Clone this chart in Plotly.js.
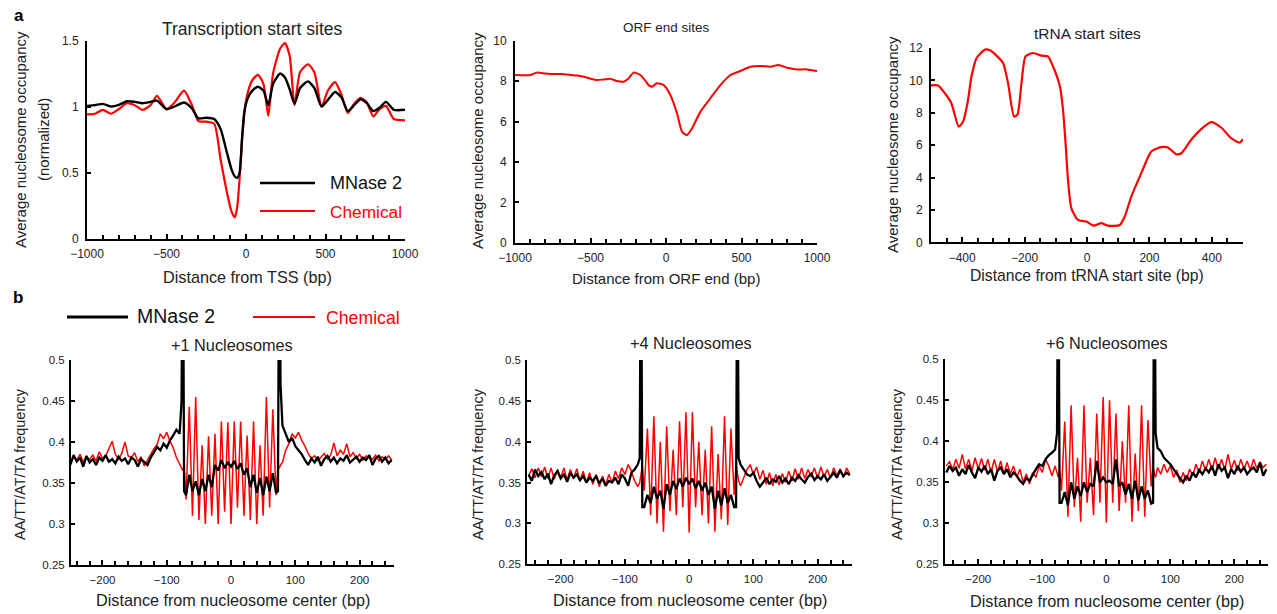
<!DOCTYPE html>
<html><head><meta charset="utf-8">
<script src="https://cdn.plot.ly/plotly-3.0.1.min.js"></script>
<style>html,body{margin:0;padding:0;background:#fff;}#chart{width:1277px;height:614px;}</style>
</head><body><div id="chart"></div>
<script>
// ---------- Panel a: Transcription start sites ----------
const tssX = [-1000,-950,-900,-850,-800,-750,-700,-650,-600,-560,-500,-450,-390,-340,-300,-250,-200,-160,-120,-90,-70,-55,-40,-25,-10,10,40,75,110,140,170,215,245,275,305,340,390,430,475,515,560,600,640,680,720,760,800,840,880,930,1000];
const tssMNase = [1.005,1.01,1.02,1.0,1.012,1.04,1.035,1.025,1.035,1.045,0.98,1.0,1.03,0.985,0.91,0.915,0.905,0.83,0.65,0.52,0.47,0.46,0.5,0.76,0.96,1.06,1.12,1.15,1.12,1.01,1.17,1.25,1.22,1.13,1.02,1.14,1.19,1.14,1.0,1.05,1.11,1.07,0.965,1.01,1.055,1.025,0.965,0.99,1.035,0.975,0.975];
const tssChem = [0.94,0.945,0.975,0.945,0.98,1.025,1.01,0.975,1.01,1.08,0.98,1.03,1.12,1.01,0.89,0.885,0.87,0.6,0.35,0.2,0.16,0.24,0.46,0.74,0.96,1.1,1.2,1.24,1.17,0.93,1.25,1.44,1.48,1.38,1.01,1.26,1.32,1.26,1.0,1.12,1.185,1.09,0.95,1.02,1.065,1.03,0.925,0.98,1.005,0.905,0.895];

// ---------- ORF end sites ----------
const orfX = [-1000,-900,-855,-800,-745,-690,-634,-590,-546,-500,-457,-413,-369,-325,-281,-248,-214,-170,-140,-115,-93,-60,-15,29,73,106,139,172,228,294,360,427,493,559,625,692,747,802,869,935,1000];
const orfChem = [8.3,8.3,8.42,8.38,8.35,8.35,8.3,8.28,8.22,8.12,8.05,8.08,8.12,8.0,7.97,8.13,8.42,8.3,8.05,7.8,7.72,7.89,7.8,7.31,6.4,5.5,5.33,5.66,6.49,7.15,7.8,8.3,8.5,8.71,8.75,8.71,8.8,8.66,8.58,8.58,8.5];

// ---------- tRNA start sites ----------
const trnaX = [-500,-477,-456,-435,-411,-397,-383,-370,-354,-327,-311,-290,-269,-253,-234,-223,-210,-197,-173,-146,-125,-109,-87,-77,-68,-61,-50,-29,-2,21,46,67,105,121,142,174,206,238,259,286,302,334,366,398,430,462,489,500];
const trnaChem = [9.69,9.69,9.22,8.6,7.15,7.46,8.6,10.25,11.38,11.9,11.86,11.53,11.07,9.83,7.77,7.88,9.83,11.48,11.69,11.53,11.48,10.87,9.63,8.19,5.92,3.86,2.1,1.38,1.28,1.03,1.18,1.03,1.07,1.59,2.82,4.27,5.61,5.88,5.86,5.44,5.5,6.33,6.99,7.42,7.09,6.43,6.16,6.37];

// ---------- Panel b: positions relative to nucleosome center ----------
const posB = [-250,-245,-240,-235,-230,-225,-220,-215,-210,-205,-200,-195,-190,-185,-180,-175,-170,-165,-160,-155,-150,-145,-140,-135,-130,-125,-120,-115,-110,-105,-100,-95,-90,-85,-80,
 -77,-75,-73,
 -70,-65,-60,-55,-50,-45,-40,-35,-30,-25,-20,-15,-10,-5,0,5,10,15,20,25,30,35,40,45,50,55,60,65,70,
 73,75,77,
 80,85,90,95,100,105,110,115,120,125,130,135,140,145,150,155,160,165,170,175,180,185,190,195,200,205,210,215,220,225,230,235,240,245,250];

// +1 nucleosomes
const nuc1Chem = [0.375,0.382,0.378,0.385,0.376,0.381,0.379,0.384,0.377,0.388,0.38,0.383,0.392,0.401,0.385,0.379,0.386,0.4,0.383,0.381,0.387,0.376,0.382,0.371,0.378,0.386,0.392,0.397,0.41,0.404,0.412,0.401,0.393,0.381,0.372,
 0.368,0.365,0.37,
 0.33,0.443,0.31,0.455,0.305,0.396,0.30,0.407,0.31,0.41,0.30,0.425,0.315,0.424,0.30,0.425,0.32,0.425,0.31,0.408,0.305,0.425,0.30,0.396,0.31,0.455,0.32,0.44,0.335,
 0.37,0.368,0.372,
 0.375,0.39,0.398,0.41,0.405,0.412,0.402,0.395,0.386,0.38,0.383,0.377,0.381,0.386,0.379,0.384,0.399,0.383,0.39,0.385,0.398,0.382,0.387,0.38,0.385,0.378,0.383,0.381,0.379,0.384,0.377,0.382,0.379,0.383,0.378];
const nuc1MNase = [0.372,0.384,0.376,0.381,0.37,0.383,0.375,0.379,0.372,0.381,0.377,0.384,0.376,0.379,0.374,0.382,0.377,0.38,0.373,0.381,0.378,0.37,0.379,0.376,0.372,0.381,0.388,0.394,0.39,0.398,0.393,0.402,0.408,0.415,0.41,
 0.45,0.7,0.34,
 0.335,0.36,0.34,0.352,0.335,0.355,0.34,0.36,0.345,0.372,0.365,0.378,0.368,0.375,0.37,0.377,0.367,0.374,0.36,0.368,0.345,0.36,0.338,0.356,0.335,0.358,0.34,0.362,0.338,
 0.34,0.7,0.47,
 0.42,0.41,0.4,0.405,0.395,0.39,0.385,0.378,0.372,0.38,0.375,0.382,0.371,0.379,0.383,0.376,0.381,0.374,0.38,0.377,0.384,0.375,0.379,0.382,0.376,0.381,0.378,0.384,0.372,0.38,0.383,0.376,0.381,0.374,0.378];

// +4 nucleosomes
const nuc4Chem = [0.358,0.367,0.356,0.368,0.357,0.369,0.355,0.368,0.354,0.366,0.356,0.368,0.353,0.366,0.355,0.367,0.352,0.364,0.35,0.362,0.348,0.36,0.345,0.358,0.347,0.36,0.35,0.364,0.355,0.368,0.36,0.372,0.364,0.352,0.345,
 0.35,0.36,0.37,
 0.34,0.416,0.31,0.431,0.30,0.40,0.29,0.419,0.315,0.39,0.31,0.425,0.32,0.436,0.289,0.436,0.32,0.40,0.31,0.39,0.30,0.419,0.29,0.385,0.305,0.431,0.298,0.416,0.335,
 0.372,0.362,0.352,
 0.346,0.355,0.366,0.372,0.36,0.369,0.354,0.365,0.348,0.362,0.346,0.36,0.347,0.361,0.35,0.364,0.352,0.367,0.354,0.368,0.355,0.366,0.357,0.368,0.355,0.369,0.357,0.366,0.356,0.368,0.358,0.367,0.356,0.368,0.36];
const nuc4MNase = [0.36,0.352,0.366,0.358,0.363,0.354,0.361,0.348,0.359,0.364,0.355,0.36,0.351,0.362,0.356,0.36,0.353,0.358,0.35,0.356,0.352,0.358,0.349,0.355,0.346,0.352,0.35,0.356,0.348,0.36,0.355,0.346,0.362,0.366,0.372,
 0.38,0.7,0.32,
 0.32,0.335,0.325,0.345,0.33,0.34,0.318,0.348,0.335,0.352,0.342,0.355,0.345,0.356,0.348,0.355,0.343,0.352,0.34,0.35,0.335,0.345,0.318,0.34,0.322,0.343,0.325,0.335,0.32,
 0.32,0.7,0.38,
 0.372,0.366,0.36,0.358,0.362,0.352,0.345,0.35,0.356,0.348,0.354,0.351,0.358,0.35,0.355,0.348,0.356,0.352,0.359,0.354,0.35,0.357,0.361,0.353,0.358,0.354,0.36,0.352,0.357,0.362,0.356,0.365,0.358,0.362,0.359];

// +6 nucleosomes
const nuc6Chem = [0.37,0.375,0.366,0.378,0.367,0.384,0.366,0.378,0.364,0.38,0.366,0.379,0.365,0.378,0.362,0.378,0.363,0.376,0.36,0.374,0.36,0.37,0.356,0.366,0.35,0.36,0.348,0.362,0.356,0.37,0.362,0.378,0.37,0.358,0.37,
 0.362,0.356,0.365,
 0.34,0.424,0.308,0.444,0.32,0.38,0.302,0.444,0.325,0.38,0.31,0.434,0.325,0.454,0.301,0.45,0.325,0.434,0.315,0.40,0.325,0.444,0.302,0.385,0.315,0.444,0.308,0.426,0.345,
 0.37,0.36,0.356,
 0.368,0.36,0.372,0.362,0.37,0.356,0.365,0.35,0.362,0.352,0.366,0.358,0.372,0.362,0.376,0.364,0.378,0.365,0.38,0.366,0.378,0.365,0.384,0.366,0.377,0.364,0.378,0.366,0.376,0.365,0.378,0.367,0.375,0.368,0.372];
const nuc6MNase = [0.362,0.37,0.364,0.368,0.358,0.366,0.36,0.371,0.362,0.355,0.368,0.363,0.37,0.36,0.366,0.352,0.364,0.368,0.36,0.366,0.356,0.362,0.358,0.352,0.348,0.355,0.352,0.36,0.366,0.372,0.37,0.378,0.383,0.386,0.39,
 0.41,0.7,0.325,
 0.325,0.338,0.322,0.35,0.33,0.345,0.333,0.35,0.338,0.348,0.345,0.376,0.35,0.356,0.35,0.352,0.348,0.378,0.345,0.35,0.335,0.348,0.33,0.352,0.328,0.345,0.33,0.34,0.324,
 0.325,0.7,0.41,
 0.392,0.388,0.38,0.376,0.372,0.366,0.36,0.355,0.35,0.358,0.352,0.362,0.356,0.365,0.36,0.367,0.362,0.37,0.358,0.372,0.364,0.368,0.355,0.366,0.36,0.37,0.363,0.368,0.36,0.365,0.368,0.362,0.374,0.358,0.366];

// ---------- rendering ----------
const FONT = "Arial, 'Liberation Sans', Helvetica, sans-serif";
const RED = '#ff0000', BLK = '#000000';
const W = 1277, H = 614;
const px = v => v / W;
const py = v => 1 - v / H;

function xAxis(l, r, range, dtick, minor, fs, anchor) {
  return {
    domain: [px(l), px(r)], range: range, anchor: anchor,
    showline: true, linecolor: '#000', linewidth: 2,
    ticks: 'inside', ticklen: 5, tickwidth: 2, tickcolor: '#000',
    tick0: 0, dtick: dtick, showgrid: false, zeroline: false,
    tickfont: {family: FONT, size: fs, color: '#222'},
    ticklabelstandoff: 3,
    minor: {tick0: 0, dtick: minor, ticks: 'inside', ticklen: 4, tickwidth: 2, tickcolor: '#000', showgrid: false},
    fixedrange: true
  };
}
function yAxis(t, b, range, dtick, fs, anchor, standoff) {
  return {
    domain: [py(b), py(t)], range: range, anchor: anchor,
    showline: true, linecolor: '#000', linewidth: 2,
    ticks: 'inside', ticklen: 4, tickwidth: 2, tickcolor: '#000',
    tick0: 0, dtick: dtick, showgrid: false, zeroline: false,
    tickfont: {family: FONT, size: fs, color: '#222'},
    ticklabelstandoff: standoff,
    fixedrange: true
  };
}
function line(x, y, color, width, xa, ya, name, shape) {
  return {x: x, y: y, type: 'scatter', mode: 'lines', name: name, showlegend: false,
    line: {color: color, width: width, shape: shape || 'linear', smoothing: 0.6},
    xaxis: xa, yaxis: ya, hoverinfo: 'skip'};
}

const data = [
  line(tssX, tssChem, RED, 2.2, 'x', 'y', 'Chemical', 'spline'),
  line(tssX, tssMNase, BLK, 2.4, 'x', 'y', 'MNase 2', 'spline'),
  line(orfX, orfChem, RED, 2, 'x2', 'y2', 'Chemical', 'spline'),
  line(trnaX, trnaChem, RED, 2.2, 'x3', 'y3', 'Chemical', 'spline'),
  line(posB, nuc1Chem, RED, 1.5, 'x4', 'y4', 'Chemical'),
  line(posB, nuc1MNase, BLK, 2.3, 'x4', 'y4', 'MNase 2'),
  line(posB, nuc4Chem, RED, 1.5, 'x5', 'y5', 'Chemical'),
  line(posB, nuc4MNase, BLK, 2.3, 'x5', 'y5', 'MNase 2'),
  line(posB, nuc6Chem, RED, 1.5, 'x6', 'y6', 'Chemical'),
  line(posB, nuc6MNase, BLK, 2.3, 'x6', 'y6', 'MNase 2')
];

function ann(text, x, y, size, opts) {
  return Object.assign({text: text, x: px(x), y: py(y), xref: 'paper', yref: 'paper',
    showarrow: false, xanchor: 'center', yanchor: 'middle',
    font: {family: FONT, size: size, color: '#222'}}, opts || {});
}
const YT = 'Average nucleosome occupancy';
const BT = 'AA/TT/AT/TA frequency';
const BX = 'Distance from nucleosome center (bp)';

const annotations = [
  ann('<b>a</b>', 19, 15, 17, {font: {family: FONT, size: 17, color: '#000'}}),
  ann('<b>b</b>', 18, 297, 17, {font: {family: FONT, size: 17, color: '#000'}}),
  ann('Transcription start sites', 252, 29, 17.5),
  ann('ORF end sites', 666, 27, 13.5),
  ann('tRNA start sites', 1087, 33, 15.5),
  ann(YT, 20, 140, 15, {textangle: -90}),
  ann('(normalized)', 43, 140, 15, {textangle: -90}),
  ann(YT, 477, 141, 15, {textangle: -90}),
  ann(YT, 892, 145, 15, {textangle: -90}),
  ann('Distance from TSS (bp)', 247, 277, 16.2),
  ann('Distance from ORF end (bp)', 666, 278, 15),
  ann('Distance from tRNA start site (bp)', 1087, 275, 15.7),
  ann('+1 Nucleosomes', 232, 345, 16.3),
  ann('+4 Nucleosomes', 691, 343, 16.3),
  ann('+6 Nucleosomes', 1107, 343, 16.3),
  ann(BT, 20, 464, 14.5, {textangle: -90}),
  ann(BT, 478, 464, 14.5, {textangle: -90}),
  ann(BT, 897, 464, 14.5, {textangle: -90}),
  ann(BX, 233, 600, 16.2),
  ann(BX, 690, 600, 16.2),
  ann(BX, 1107, 601, 16.2),
  ann('MNase 2', 328, 183, 18, {xanchor: 'left', font: {family: FONT, size: 18, color: '#111'}}),
  ann('Chemical', 328, 212, 17.3, {xanchor: 'left', font: {family: FONT, size: 17.3, color: RED}}),
  ann('MNase 2', 135, 316, 19.5, {xanchor: 'left', font: {family: FONT, size: 19.5, color: '#111'}}),
  ann('Chemical', 324, 318, 17.7, {xanchor: 'left', font: {family: FONT, size: 17.7, color: RED}})
];

function key(x0, x1, y, color, w) {
  return {type: 'line', xref: 'paper', yref: 'paper', x0: px(x0), x1: px(x1), y0: py(y), y1: py(y),
    line: {color: color, width: w}};
}
const shapes = [
  key(260, 315, 183, BLK, 2.5),
  key(260, 315, 211, RED, 2),
  key(67, 128, 317, BLK, 3),
  key(253, 315, 317, RED, 2)
];

const layout = {
  width: W, height: H,
  margin: {l: 0, r: 0, t: 0, b: 0},
  paper_bgcolor: '#fff', plot_bgcolor: 'rgba(0,0,0,0)',
  showlegend: false,
  font: {family: FONT, color: '#222'},
  xaxis:  xAxis(87, 405, [-1000, 1000], 500, 100, 12, 'y'),
  yaxis:  yAxis(40.5, 238.5, [0, 1.5], 0.5, 12, 'x', 4),
  xaxis2: xAxis(515, 817, [-1000, 1000], 500, 100, 12, 'y2'),
  yaxis2: yAxis(40.7, 242.7, [0, 10], 2, 12, 'x2', 4),
  xaxis3: xAxis(931, 1243, [-500, 500], 200, 50, 12, 'y3'),
  yaxis3: yAxis(48, 242.3, [0, 12], 2, 12, 'x3', 4),
  xaxis4: xAxis(71, 394.3, [-249, 254], 100, 20, 11.5, 'y4'),
  yaxis4: yAxis(360, 565, [0.25, 0.5], 0.05, 11.5, 'x4', 2),
  xaxis5: xAxis(527.3, 851.7, [-252, 253], 100, 20, 11.5, 'y5'),
  yaxis5: yAxis(360, 564.3, [0.25, 0.5], 0.05, 11.5, 'x5', 2),
  xaxis6: xAxis(945, 1268.3, [-252, 253], 100, 20, 11.5, 'y6'),
  yaxis6: yAxis(359.3, 564.3, [0.25, 0.5], 0.05, 11.5, 'x6', 2),
  annotations: annotations,
  shapes: shapes
};

Plotly.newPlot('chart', data, layout, {staticPlot: true, displayModeBar: false});
</script>
</body></html>
